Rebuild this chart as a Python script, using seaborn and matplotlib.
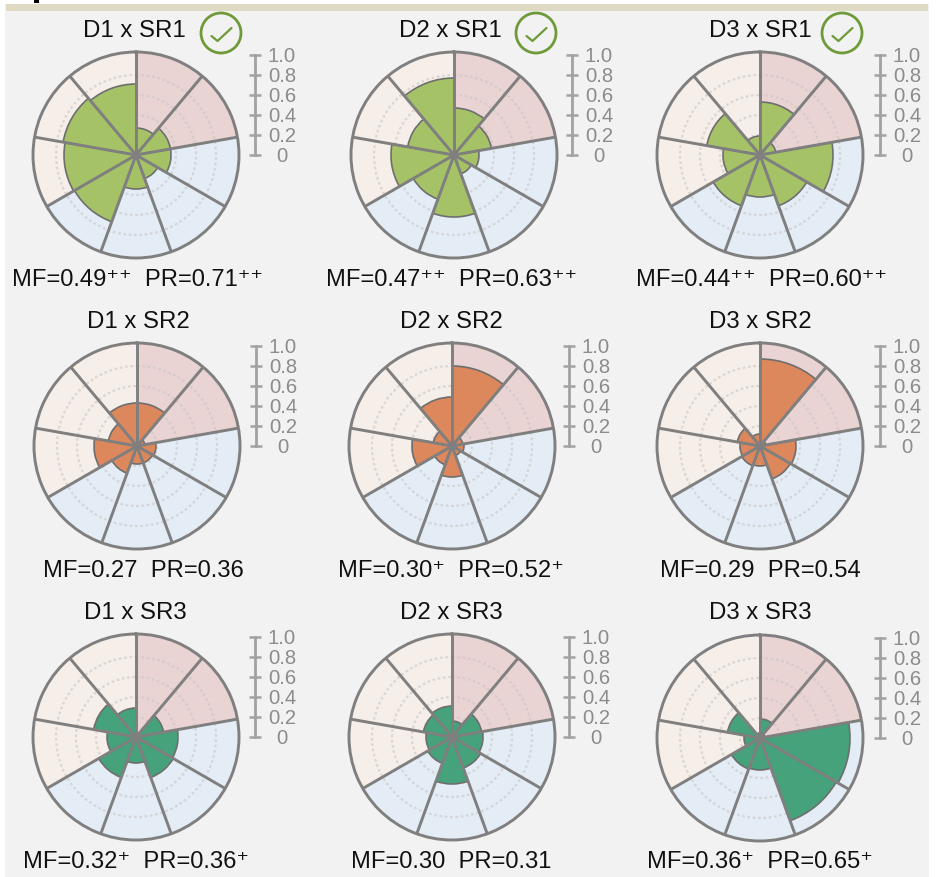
import numpy as np
import pandas as pd
import matplotlib
matplotlib.use("Agg")
import matplotlib.pyplot as plt
from matplotlib.patches import Rectangle, Circle
from matplotlib.lines import Line2D
import seaborn as sns

W, H = 936, 877
sns.set_theme(style="white")
plt.rcParams["font.family"] = ["Liberation Sans", "DejaVu Sans"]

titles = ["D1 x SR1", "D2 x SR1", "D3 x SR1",
          "D1 x SR2", "D2 x SR2", "D3 x SR2",
          "D1 x SR3", "D2 x SR3", "D3 x SR3"]
captions = ["MF=0.49⁺⁺  PR=0.71⁺⁺", "MF=0.47⁺⁺  PR=0.63⁺⁺", "MF=0.44⁺⁺  PR=0.60⁺⁺",
            "MF=0.27  PR=0.36", "MF=0.30⁺  PR=0.52⁺", "MF=0.29  PR=0.54",
            "MF=0.32⁺  PR=0.36⁺", "MF=0.30  PR=0.31", "MF=0.36⁺  PR=0.65⁺"]
d1_sr1 = [0.27, 0.35, 0.35, 0.25, 0.34, 0.71, 0.72, 0.74, 0.71]
d2_sr1 = [0.47, 0.38, 0.25, 0.20, 0.62, 0.47, 0.63, 0.47, 0.77]
d3_sr1 = [0.53, 0.16, 0.73, 0.54, 0.42, 0.54, 0.37, 0.54, 0.19]
d1_sr2 = [0.43, 0.08, 0.19, 0.18, 0.18, 0.29, 0.43, 0.29, 0.43]
d2_sr2 = [0.80, 0.11, 0.12, 0.10, 0.31, 0.20, 0.40, 0.19, 0.49]
d3_sr2 = [0.87, 0.06, 0.36, 0.35, 0.20, 0.21, 0.20, 0.23, 0.12]
d1_sr3 = [0.03, 0.28, 0.42, 0.43, 0.26, 0.43, 0.29, 0.43, 0.29]
d2_sr3 = [0.16, 0.30, 0.31, 0.33, 0.47, 0.28, 0.26, 0.29, 0.31]
d3_sr3 = [0.19, 0.05, 0.90, 0.88, 0.32, 0.33, 0.16, 0.33, 0.05]
panel_values = [d1_sr1, d2_sr1, d3_sr1, d1_sr2, d2_sr2, d3_sr2, d1_sr3, d2_sr3, d3_sr3]
sector_groups = ["a", "a", "b", "b", "b", "b", "c", "c", "c"]
scale_ticks = [0, 0.2, 0.4, 0.6, 0.8, 1.0]
scale_labels = ["0", "0.2", "0.4", "0.6", "0.8", "1.0"]

group_colors = {"a": "#e9d3d3", "b": "#e4ecf5", "c": "#f6eee8"}
row_colors = ["#a5c266", "#dc875c", "#45a27a"]
GRAY = "#7f7f7f"
SCALE_GRAY = "#a2a2a2"
R = 103.0

centers = [(136, 155), (454, 155), (760, 155),
           (137, 446), (452, 446), (760, 446),
           (136, 737), (452, 737), (760, 738)]
scale_x = [255, 572, 880, 256, 569, 880, 255, 569, 880]
title_pos = [(134, 31), (450, 31), (760, 31),
             (138, 322), (451, 322), (760, 322),
             (135, 613), (451, 613), (760, 613)]
cap_pos = [(137, 280), (452, 280), (761, 280),
           (143, 571), (451, 571), (760, 571),
           (136, 862), (451, 862), (760, 862)]
checks = [(221, 33), (536, 33), (842, 33)]

fig = plt.figure(figsize=(W / 100, H / 100), dpi=100, facecolor="white")

# page furniture, in pixel coordinates
bg = fig.add_axes([0, 0, 1, 1], zorder=0)
bg.set_xlim(0, W)
bg.set_ylim(H, 0)
bg.axis("off")
bg.add_patch(Rectangle((5, 4), 924, H - 4, fc="#f2f2f2", ec="none"))
bg.add_patch(Rectangle((6, 4), 922, 7, fc="#dedac4", ec="none"))
bg.add_patch(Rectangle((34, 0), 5, 3, fc="black", ec="none"))
for t, (x, y) in zip(titles, title_pos):
    bg.text(x, y, t, ha="center", va="center", fontsize=17.3, color="#111111")
for t, (x, y) in zip(captions, cap_pos):
    bg.text(x, y, t, ha="center", va="center", fontsize=17.1, color="#111111")
for x, y in checks:
    bg.add_patch(Circle((x, y), 20, fc="none", ec="#6f9a3a", lw=2.0))
    bg.add_line(Line2D([x - 9.5, x - 3.5, x + 10.5], [y + 3, y + 8, y - 5],
                       color="#6f9a3a", lw=1.6))

theta_deg = np.arange(20, 360, 40)
theta = np.deg2rad(theta_deg)
edges = np.deg2rad(np.arange(0, 360, 40))

for i, vals in enumerate(panel_values):
    cx, cy = centers[i]
    ax = fig.add_axes([(cx - R) / W, 1 - (cy + R) / H, 2 * R / W, 2 * R / H],
                      projection="polar", zorder=2)
    ax.set_theta_zero_location("N")
    ax.set_theta_direction(-1)
    ax.patch.set_alpha(0)
    df = pd.DataFrame({"theta": theta, "value": vals, "full": 1.1, "group": sector_groups})
    sns.barplot(data=df, x="theta", y="full", hue="group", palette=group_colors,
                dodge=False, native_scale=True, width=1, saturation=1, linewidth=0,
                legend=False, errorbar=None, ax=ax, zorder=1)
    sns.barplot(data=df, x="theta", y="value", color=row_colors[i // 3],
                native_scale=True, width=1, saturation=1, edgecolor="#6e6e6e",
                linewidth=1.2, errorbar=None, ax=ax, zorder=2)
    ax.vlines(edges, 0, 1.1, color=GRAY, lw=2.1, zorder=3)
    ax.set_axisbelow("line")
    ax.set_xticks([])
    ax.set_yticks(scale_ticks[1:-1])
    ax.set_yticklabels([])
    ax.grid(True, axis="y", color="#c9c6c4", lw=1.6, ls=(0, (1.2, 1.2)), alpha=0.6)
    ax.tick_params(left=False, bottom=False, labelleft=False, labelbottom=False)
    ax.set(xlabel="", ylabel="")
    ax.set_ylim(0, R / 100)
    ax.set_xlim(0, 2 * np.pi)
    ax.spines["polar"].set_color(GRAY)
    ax.spines["polar"].set_linewidth(2.1)

    # radial scale beside each rose
    sx = scale_x[i]
    s = fig.add_axes([sx / W, 1 - (cy - 0.5) / H, 0.0001, 100 / H], zorder=2)
    s.patch.set_alpha(0)
    s.set_ylim(0, 1)
    s.set_xticks([])
    s.set_yticks(scale_ticks)
    s.set_yticklabels(scale_labels)
    for k in ["left", "top", "bottom"]:
        s.spines[k].set_visible(False)
    s.spines["right"].set_color(SCALE_GRAY)
    s.spines["right"].set_linewidth(2.0)
    s.yaxis.tick_right()
    s.tick_params(axis="y", direction="inout", length=8.6, width=1.8, color=SCALE_GRAY,
                  labelcolor="#8c8c8c", labelsize=14.6, pad=15, left=False, right=True)
    for lab in s.get_yticklabels():
        lab.set_ha("center")

fig.savefig("out.png", dpi=100, facecolor=fig.get_facecolor())
